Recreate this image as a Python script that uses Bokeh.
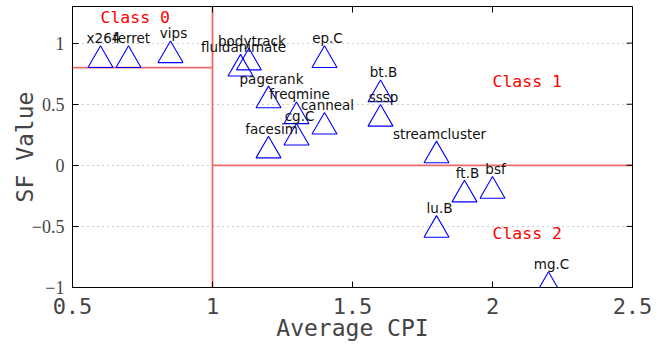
import math
from bokeh.plotting import figure
from bokeh.models import ColumnDataSource, Range1d, FixedTicker
from bokeh.core.properties import value
from bokeh.embed import file_html
from bokeh.resources import INLINE

# ---- data ----
names = ["x264", "ferret", "vips", "fluidanimate", "bodytrack", "ep.C",
         "pagerank", "freqmine", "cg.C", "canneal", "facesim", "bt.B",
         "sssp", "streamcluster", "ft.B", "bsf", "lu.B", "mg.C"]
avg_cpi = [0.6, 0.7, 0.85, 1.1, 1.13, 1.4,
           1.2, 1.3, 1.3, 1.4, 1.2, 1.6,
           1.6, 1.8, 1.9, 2.0, 1.8, 2.2]
sf_value = [0.86, 0.86, 0.90, 0.79, 0.84, 0.86,
            0.53, 0.40, 0.225, 0.315, 0.12, 0.58,
            0.38, 0.08, -0.24, -0.21, -0.53, -0.99]

class_names = ["Class 0", "Class 1", "Class 2"]
class_x = [0.6, 2.0, 2.0]
class_y = [1.21, 0.69, -0.555]

# class boundary segments
bound_x0 = [0.5, 1.0, 1.0]
bound_y0 = [0.8, -1.0, 0.0]
bound_x1 = [1.0, 1.0, 2.5]
bound_y1 = [0.8, 1.3, 0.0]

x_min, x_max = 0.5, 2.5
y_min, y_max = -1.0, 1.3
x_ticks = [0.5, 1.0, 1.5, 2.0, 2.5]
y_ticks = [-1.0, -0.5, 0.0, 0.5, 1.0]

src = ColumnDataSource(dict(x=avg_cpi, y=sf_value, name=names))

p = figure(width=672, height=345, output_backend="svg", toolbar_location=None,
           x_range=Range1d(x_min, x_max), y_range=Range1d(y_min, y_max),
           min_border_left=72, min_border_right=40, min_border_top=6,
           min_border_bottom=58)
p.background_fill_color = "white"
p.border_fill_color = "white"
p.outline_line_color = "black"
p.outline_line_width = 1

# grid
p.xgrid.visible = False
p.ygrid.ticker = FixedTicker(ticks=y_ticks)
p.ygrid.grid_line_color = "#999999"
p.ygrid.grid_line_dash = "1 4"
p.ygrid.grid_line_width = 1

# boundaries
p.segment(x0=bound_x0, y0=bound_y0, x1=bound_x1, y1=bound_y1,
          line_color="#f06a6a", line_width=1.8)

# mirrored ticks on right and top edges (inward halves visible inside frame)
p.scatter(x=[x_max] * len(y_ticks), y=y_ticks, marker="dash", size=12,
          line_color="black", line_width=1)
p.scatter(x=x_ticks, y=[y_max] * len(x_ticks), marker="dash", size=12,
          angle=math.pi / 2, line_color="black", line_width=1)

# points
p.scatter("x", "y", source=src, marker="triangle", size=25,
          fill_color=None, line_color="#0000ff", line_width=1.1)
p.text("x", "y", text="name", source=src, text_align="center",
       text_baseline="middle", x_offset=3, y_offset=-22,
       text_font=value("DejaVu Sans"), text_font_size="13.5px",
       text_color="#111111")

# class labels
p.text(x=class_x, y=class_y, text=class_names, text_align="left",
       text_baseline="middle", text_font=value("DejaVu Sans Mono"),
       text_font_size="16.5px", text_color="#ff0000")

# axes
xa = p.xaxis[0]
xa.ticker = FixedTicker(ticks=x_ticks)
xa.axis_label = "Average CPI"
xa.axis_label_text_font = "DejaVu Sans Mono"
xa.axis_label_text_font_size = "23px"
xa.axis_label_text_font_style = "normal"
xa.axis_label_standoff = -2
xa.major_label_text_font = "DejaVu Sans Mono"
xa.major_label_text_font_size = "22px"
xa.major_label_standoff = 10
xa.major_tick_in = 6
xa.major_tick_out = 0
xa.minor_tick_line_color = None

ya = p.yaxis[0]
ya.ticker = FixedTicker(ticks=y_ticks)
ya.axis_label = "SF Value"
ya.axis_label_text_font = "DejaVu Sans Mono"
ya.axis_label_text_font_size = "23px"
ya.axis_label_text_font_style = "normal"
ya.axis_label_standoff = -9
ya.major_label_text_font = "Liberation Serif"
ya.major_label_text_font_size = "18px"
ya.major_label_standoff = 8
ya.major_tick_in = 6
ya.major_tick_out = 0
ya.minor_tick_line_color = None

open("out.html", "w").write(file_html(p, INLINE))
